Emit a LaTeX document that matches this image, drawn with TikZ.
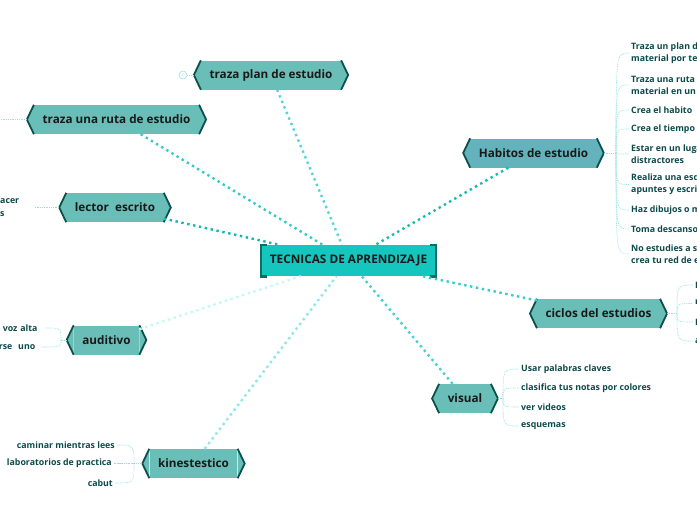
\documentclass[tikz,border=0pt]{standalone}
\usepackage{fontspec}
\setmainfont{Open Sans}
\usepackage{tikz}
\usetikzlibrary{calc}
\definecolor{hexfill}{RGB}{106,190,184}
\definecolor{habfill}{RGB}{100,178,188}
\definecolor{hexedge}{RGB}{12,80,76}
\definecolor{corefill}{RGB}{20,198,189}
\definecolor{coreedge}{RGB}{14,108,102}
\definecolor{leaftext}{RGB}{12,74,74}
\definecolor{twigcol}{RGB}{150,226,226}
\definecolor{spokeplan}{RGB}{84,214,214}
\definecolor{spokeruta}{RGB}{52,202,202}
\definecolor{spokelector}{RGB}{16,185,176}
\definecolor{spokehab}{RGB}{20,188,180}
\definecolor{spokeciclo}{RGB}{52,204,204}
\definecolor{spokeaud}{RGB}{196,248,248}
\definecolor{spokekin}{RGB}{140,232,232}
\definecolor{spokevis}{RGB}{72,208,208}

\begin{document}
\begin{tikzpicture}[x=1pt,y=-1pt,
  topic/.style={fill=hexfill,minimum height=29pt,inner xsep=8.5pt,font=\fontsize{11.7}{13}\selectfont\bfseries,text=black!90},
  core/.style={fill=corefill,minimum height=31pt,inner xsep=10pt,font=\fontsize{11.8}{13}\selectfont\bfseries,text=black!90},
  leaf/.style={font=\fontsize{8.8}{12.2}\selectfont\bfseries,text=leaftext,inner sep=2pt},
  spoke/.style={line width=2.4pt,dash pattern=on 2.4pt off 3.6pt},
  twig/.style={draw=twigcol,line width=0.6pt,dash pattern=on 1pt off 0.8pt}]
  \useasboundingbox (0,0) rectangle (697,520);
  \clip (0,0) rectangle (697,520);

  \node[core] (tecnicas) at (348.5,260.5) {TECNICAS DE APRENDIZAJE};
  \node[topic] (plan) at (271,75) {traza plan de estudio};
  \node[topic] (ruta) at (116.5,119.5) {traza una ruta de estudio};
  \node[topic] (lector) at (115,207.5) {lector\ \ escrito};
  \node[topic,fill=habfill] (habitos) at (533.5,153) {Habitos de estudio};
  \node[topic] (ciclos) at (598.5,313.5) {ciclos del estudios};
  \node[topic] (auditivo) at (106.5,340) {auditivo};
  \node[topic] (visual) at (465,398.5) {visual};
  \node[topic] (kinest) at (193.5,463.5) {kinestestico};

  \foreach \n/\c in {plan/hexfill,ruta/hexfill,lector/hexfill,habitos/habfill,ciclos/hexfill,auditivo/hexfill,visual/hexfill,kinest/hexfill}{
    \fill[\c] (\n.north west) -- ([xshift=-7pt]\n.west) -- (\n.south west) -- cycle;
    \fill[\c] (\n.north east) -- ([xshift=7pt]\n.east) -- (\n.south east) -- cycle;
    \draw[hexedge,line width=1.8pt] (\n.north west) -- ([xshift=-7pt]\n.west) -- (\n.south west);
    \draw[hexedge,line width=1.8pt] (\n.north east) -- ([xshift=7pt]\n.east) -- (\n.south east);
  }
  \draw[coreedge,line width=2.6pt] ([xshift=7pt]tecnicas.north west) -- ([xshift=1.3pt]tecnicas.north west) -- ([xshift=1.3pt]tecnicas.south west) -- ([xshift=7pt]tecnicas.south west);
  \draw[coreedge,line width=2.6pt] ([xshift=-7pt]tecnicas.north east) -- ([xshift=-1.3pt]tecnicas.north east) -- ([xshift=-1.3pt]tecnicas.south east) -- ([xshift=-7pt]tecnicas.south east);

  \draw[spoke,draw=spokeplan] (plan) -- (tecnicas);
  \draw[spoke,draw=spokeruta] (ruta) -- (tecnicas);
  \draw[spoke,draw=spokelector] (lector) -- (tecnicas);
  \draw[spoke,draw=spokehab] (habitos) -- (tecnicas);
  \draw[spoke,draw=spokeciclo] (ciclos) -- (tecnicas);
  \draw[spoke,draw=spokeaud] (auditivo) -- (tecnicas);
  \draw[spoke,draw=spokekin] (kinest) -- (tecnicas);
  \draw[spoke,draw=spokevis] (visual) -- (tecnicas);

  \node[circle,draw=twigcol,line width=0.6pt,inner sep=0pt,minimum size=8pt,text=twigcol,font=\fontsize{4}{4}\selectfont] (plan-more) at (183,75) {2};
  \draw[twig] ([xshift=-7pt]plan.west) -- (plan-more);

  \coordinate (ruta-out) at (0,119.5);
  \draw[twig] ([xshift=-7pt]ruta.west) -- (ruta-out);

  \node[leaf,anchor=west,text width=32pt,align=left] (lector-1) at (-2,207.5) {acer\\s};
  \draw[twig] ([xshift=-7pt]lector.west) -- (lector-1.east);

  \coordinate (hab-hub) at (616,153);
  \draw[twig] ([xshift=7pt]habitos.east) -- (hab-hub);
  \foreach \i/\y/\t in {1/53/{Traza un plan de\\material por temas},2/85/{Traza una ruta\\material en un},3/110/{Crea el habito},4/129/{Crea el tiempo},5/154/{Estar en un lugar\\distractores},6/184.5/{Realiza una esquema\\apuntes y escribe},7/210/{Haz dibujos o mapas},8/229/{Toma descansos},9/254/{No estudies a solas\\crea tu red de estudio}}{
    \node[leaf,anchor=west,align=left] (hab-\i) at (629,\y) {\t};
    \draw[twig] (hab-hub) .. controls (hab-hub |- hab-\i.west) .. (hab-\i.west);
  }

  \coordinate (cic-hub) at (677,313.5);
  \draw[twig] ([xshift=7pt]ciclos.east) -- (cic-hub);
  \foreach \i/\y/\t in {1/285/{Lee},2/303.5/{repasa},3/322/{Practica},4/341/{aplica}}{
    \node[leaf,anchor=west] (cic-\i) at (693,\y) {\t};
    \draw[twig] (cic-hub) .. controls (cic-hub |- cic-\i.west) .. (cic-\i.west);
  }

  \coordinate (vis-hub) at (503,398.5);
  \draw[twig] ([xshift=7pt]visual.east) -- (vis-hub);
  \foreach \i/\y/\t in {1/369/{Usar palabras claves},2/388/{clasifica tus notas por colores},3/407/{ver videos},4/426/{esquemas}}{
    \node[leaf,anchor=west] (vis-\i) at (519,\y) {\t};
    \draw[twig] (vis-hub) .. controls (vis-hub |- vis-\i.west) .. (vis-\i.west);
  }

  \coordinate (aud-hub) at (61,340);
  \draw[twig] ([xshift=-7pt]auditivo.west) -- (aud-hub);
  \foreach \i/\y/\t in {1/328/{voz alta},2/347/{rse\ \ uno}}{
    \node[leaf,anchor=east,text width=40pt,align=left] (aud-\i) at (\ifnum\i=1 45\else 41\fi,\y) {\t};
    \draw[twig] (aud-hub) .. controls (aud-hub |- aud-\i.east) .. (aud-\i.east);
  }

  \coordinate (kin-hub) at (134,463.5);
  \draw[twig] ([xshift=-7pt]kinest.west) -- (kin-hub);
  \foreach \i/\x/\y/\t in {1/117/445/{caminar mientras lees},2/114/463.5/{laboratorios de practica},3/115/483/{cabut}}{
    \node[leaf,anchor=east] (kin-\i) at (\x,\y) {\t};
    \draw[twig] (kin-hub) .. controls (kin-hub |- kin-\i.east) .. (kin-\i.east);
  }
\end{tikzpicture}
\end{document}
